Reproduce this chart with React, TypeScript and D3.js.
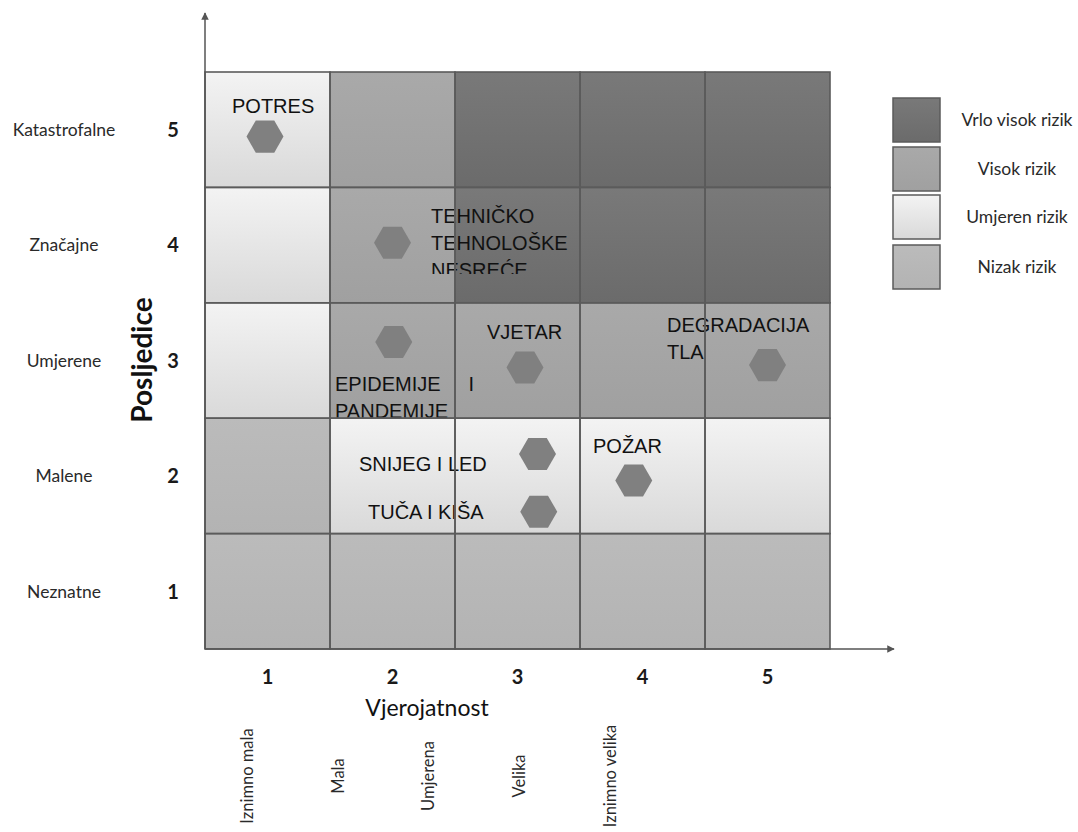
import React from "react";
import * as d3 from "d3";

// ---------- data ----------
const likelihoodValues = [1, 2, 3, 4, 5];
const likelihoodLabels = ["Iznimno mala", "Mala", "Umjerena", "Velika", "Iznimno velika"];
const consequenceValues = [1, 2, 3, 4, 5];
const consequenceLabels = ["Neznatne", "Malene", "Umjerene", "Značajne", "Katastrofalne"];

// risk level for each cell: rows = consequence 1..5, columns = likelihood 1..5
const riskRow1 = ["nizak", "nizak", "nizak", "nizak", "nizak"];
const riskRow2 = ["nizak", "umjeren", "umjeren", "umjeren", "umjeren"];
const riskRow3 = ["umjeren", "visok", "visok", "visok", "visok"];
const riskRow4 = ["umjeren", "visok", "vrlo", "vrlo", "vrlo"];
const riskRow5 = ["umjeren", "visok", "vrlo", "vrlo", "vrlo"];
const riskRows = [riskRow1, riskRow2, riskRow3, riskRow4, riskRow5];

const riskKeys = ["vrlo", "visok", "umjeren", "nizak"];
const riskNames = ["Vrlo visok rizik", "Visok rizik", "Umjeren rizik", "Nizak rizik"];

// events placed on the matrix (likelihood, consequence)
const eventLabelLines = [
  ["POTRES"],
  ["TEHNIČKO", "TEHNOLOŠKE", "NESREĆE"],
  ["EPIDEMIJE I", "PANDEMIJE"],
  ["VJETAR"],
  ["DEGRADACIJA", "TLA"],
  ["SNIJEG I LED"],
  ["TUČA I KIŠA"],
  ["POŽAR"],
];
const eventLikelihood = [0.98, 2.0, 2.01, 3.06, 5.0, 3.16, 3.17, 3.93];
const eventConsequence = [4.94, 4.02, 3.16, 2.94, 2.96, 2.19, 1.69, 1.96];
// label anchor (left edge, first baseline) in matrix coordinates
const labelLikelihood = [0.716, 2.308, 1.54, 2.756, 4.196, 1.732, 1.804, 3.604];
const labelConsequence = [5.145, 4.19, 2.736, 3.186, 3.247, 2.042, 1.627, 2.198];
const labelJustifyWidth = [0, 0, 1.112, 0, 0, 0, 0, 0];
const labelClipBottom = [null, 3.75, null, null, null, null, null, null];

// ---------- styles ----------
const W = 1078;
const H = 832;
const gradStops: Record<string, [string, string]> = {
  vrlo: ["#797979", "#6b6b6b"],
  visok: ["#a9a9a9", "#a0a0a0"],
  umjeren: ["#f3f3f3", "#d9d9d9"],
  nizak: ["#bbbbbb", "#b3b3b3"],
};
const gridColor = "#5b5b5b";
const axisFont = "Lato, 'Open Sans', sans-serif";
const labelFont = "'Liberation Sans', Arial, sans-serif";

export default function App() {
  const x = d3.scaleLinear().domain([0.5, 5.5]).range([205, 830]);
  const y = d3.scaleLinear().domain([0.5, 5.5]).range([649, 72]);
  const catX = d3.scalePoint<string>().domain(likelihoodLabels).range([247, 610]);

  const cells = riskRows.flatMap((row, ri) =>
    row.map((level, ci) => ({
      c: consequenceValues[ri],
      l: likelihoodValues[ci],
      level,
    }))
  );

  const hexR = 18.5;
  const hexPts = d3.range(6).map((i) => {
    const a = (Math.PI / 3) * i;
    return [hexR * Math.cos(a), hexR * Math.sin(a)] as [number, number];
  });
  const hexPath = d3.line()(hexPts) + "Z";

  const lineH = 27;
  const cw = x(1.5) - x(0.5);
  const ch = y(0.5) - y(1.5);

  return (
    <svg
      width={W}
      height={H}
      style={{ position: "absolute", left: 0, top: 0, background: "#fff" }}
    >
      <defs>
        {riskKeys.map((k) => (
          <linearGradient key={k} id={"g-" + k} x1="0" y1="0" x2="0" y2="1">
            <stop offset="0%" stopColor={gradStops[k][0]} />
            <stop offset="100%" stopColor={gradStops[k][1]} />
          </linearGradient>
        ))}
        {labelClipBottom.map((cb, i) =>
          cb == null ? null : (
            <clipPath key={i} id={"clip-" + i}>
              <rect x={0} y={0} width={W} height={y(cb)} />
            </clipPath>
          )
        )}
        <marker id="arrow" viewBox="0 0 10 10" refX="9" refY="5" markerWidth="5" markerHeight="5" orient="auto">
          <path d="M0,0 L10,5 L0,10 Z" fill="#555" />
        </marker>
      </defs>

      {/* cells */}
      {cells.map((d, i) => (
        <rect
          key={i}
          x={x(d.l - 0.5)}
          y={y(d.c + 0.5)}
          width={cw}
          height={ch}
          fill={`url(#g-${d.level})`}
        />
      ))}

      {/* hexagons */}
      {eventLikelihood.map((l, i) => (
        <path
          key={i}
          d={hexPath}
          transform={`translate(${x(l)},${y(eventConsequence[i])})`}
          fill="#808080"
        />
      ))}

      {/* event labels */}
      {eventLabelLines.map((lines, i) => {
        const lx = x(labelLikelihood[i]);
        const ly = y(labelConsequence[i]);
        const jw = labelJustifyWidth[i] ? x(labelJustifyWidth[i]) - x(0) : 0;
        return (
          <g
            key={i}
            clipPath={labelClipBottom[i] != null ? `url(#clip-${i})` : undefined}
            fontFamily={labelFont}
            fontSize={20}
            fill="#111"
          >
            {lines.map((ln, j) => {
              const words = ln.split(" ");
              if (jw && j < lines.length - 1 && words.length > 1) {
                return (
                  <g key={j}>
                    <text x={lx} y={ly + j * lineH}>{words.slice(0, -1).join(" ")}</text>
                    <text x={lx + jw} y={ly + j * lineH} textAnchor="end">
                      {words[words.length - 1]}
                    </text>
                  </g>
                );
              }
              return (
                <text key={j} x={lx} y={ly + j * lineH}>
                  {ln}
                </text>
              );
            })}
          </g>
        );
      })}

      {/* grid lines on top */}
      {cells.map((d, i) => (
        <rect
          key={"b" + i}
          x={x(d.l - 0.5)}
          y={y(d.c + 0.5)}
          width={cw}
          height={ch}
          fill="none"
          stroke={gridColor}
          strokeWidth={1.6}
        />
      ))}

      {/* axes arrows */}
      <line x1={x(0.5)} y1={y(0.5)} x2={x(0.5)} y2={13} stroke="#555" strokeWidth={1.5} markerEnd="url(#arrow)" />
      <line x1={x(0.5)} y1={y(0.5)} x2={894} y2={y(0.5)} stroke="#555" strokeWidth={1.5} markerEnd="url(#arrow)" />

      {/* y axis labels */}
      {consequenceValues.map((c, i) => (
        <g key={c}>
          <text x={173} y={y(c)} dy="0.36em" textAnchor="middle" fontFamily={axisFont} fontWeight={700} fontSize={20} fill="#1a1a1a">
            {c}
          </text>
          <text x={64} y={y(c)} dy="0.36em" textAnchor="middle" fontFamily={axisFont} fontSize={17.5} fill="#2a2a2a">
            {consequenceLabels[i]}
          </text>
        </g>
      ))}
      <text
        transform={`translate(142,360) rotate(-90)`}
        textAnchor="middle"
        dy="0.36em"
        fontFamily={axisFont}
        fontWeight={700}
        fontSize={28}
        fill="#111"
      >
        Posljedice
      </text>

      {/* x axis labels */}
      {likelihoodValues.map((l) => (
        <text key={l} x={x(l)} y={677} dy="0.36em" textAnchor="middle" fontFamily={axisFont} fontWeight={700} fontSize={20} fill="#1a1a1a">
          {l}
        </text>
      ))}
      <text x={427} y={708} dy="0.36em" textAnchor="middle" fontFamily={axisFont} fontSize={23} fill="#111">
        Vjerojatnost
      </text>
      {likelihoodLabels.map((lab) => (
        <text
          key={lab}
          transform={`translate(${catX(lab)},776) rotate(-90)`}
          textAnchor="middle"
          dy="0.36em"
          fontFamily={axisFont}
          fontSize={16.5}
          fill="#2a2a2a"
        >
          {lab}
        </text>
      ))}

      {/* legend */}
      {riskKeys.map((k, i) => {
        const ys = [98, 147, 195, 245];
        return (
          <g key={k}>
            <rect x={893} y={ys[i]} width={47} height={44} fill={`url(#g-${k})`} stroke={gridColor} strokeWidth={1.5} />
            <text x={1017} y={ys[i] + 22} dy="0.36em" textAnchor="middle" fontFamily={axisFont} fontSize={17.5} fill="#2a2a2a">
              {riskNames[i]}
            </text>
          </g>
        );
      })}
    </svg>
  );
}
